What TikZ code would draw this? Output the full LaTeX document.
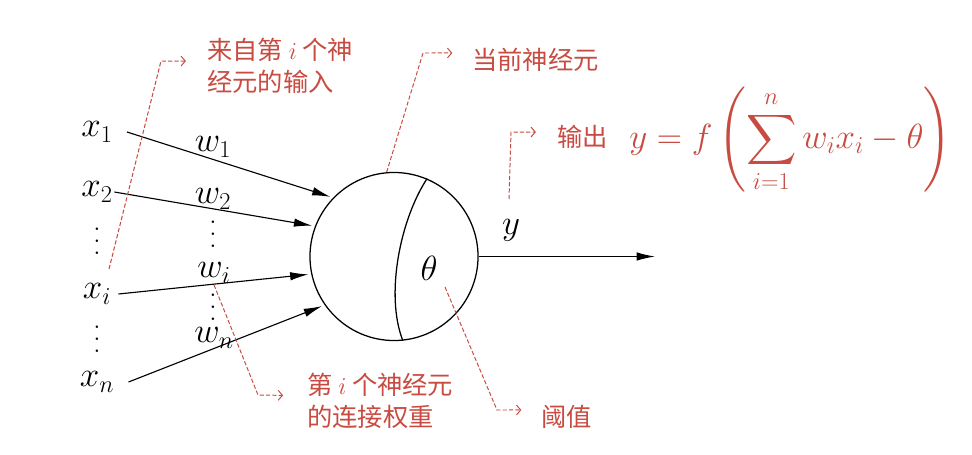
\documentclass[tikz,border=0pt]{standalone}
\usepackage{amsmath}
\usepackage{fontspec}
\newfontfamily\cjk{Noto Sans CJK SC}
\usetikzlibrary{arrows.meta, positioning}
\definecolor{notered}{RGB}{200,75,65}
\newcommand{\tallvdots}{\vbox{\baselineskip=8.5pt \lineskiplimit=0pt \hbox{.}\hbox{.}\hbox{.}}}

\begin{document}
\begin{tikzpicture}[
  x=0.025cm, y=-0.025cm,
  neuron/.style={circle, draw, line width=0.9pt, minimum size=4.2cm, inner sep=0pt},
  varnode/.style={font=\fontsize{24}{28}\selectfont, inner sep=1pt},
  dotsnode/.style={font=\fontsize{22}{26}\selectfont, inner sep=0pt},
  notetext/.style={font=\fontsize{18}{23}\selectfont\cjk, text=notered, inner sep=0pt, align=left, anchor=west},
  noteline/.style={draw=notered, line width=0.7pt, dash pattern=on 3pt off 1.5pt, -{Straight Barb[length=3pt,width=7pt]}},
  >={Latex[length=13pt,width=6pt]}
]
  \useasboundingbox (0,0) rectangle (972,454);

  %------------------------------------------------------------
  %  NEURON
  %------------------------------------------------------------
  \node[neuron] (neuron) at (394,256.5) {};
  \draw[line width=0.9pt] (neuron.67) .. controls (400,220) and (385,295) .. (neuron.276);
  \node[varnode] (theta) at (429,268) {$\theta$};

  %------------------------------------------------------------
  %  INPUTS  x_1 ... x_n
  %------------------------------------------------------------
  \node[varnode]  (X1)    at (97,132) {$x_{1}$};
  \node[varnode]  (X2)    at (97,192) {$x_{2}$};
  \node[dotsnode] (Xdots) at (97,241) {\tallvdots};
  \node[varnode]  (Xi)    at (97,294) {$x_{i}$};
  \node[dotsnode] (Xdotz) at (97,339) {\tallvdots};
  \node[varnode]  (Xn)    at (97,382) {$x_{n}$};

  %------------------------------------------------------------
  %  WEIGHTS  w_1 ... w_n
  %------------------------------------------------------------
  \node[varnode]  (W1)    at (213,147) {$w_{1}$};
  \node[varnode]  (W2)    at (213,199) {$w_{2}$};
  \node[dotsnode] (Wdots) at (213,234) {\tallvdots};
  \node[varnode]  (Wi)    at (214,273) {$w_{i}$};
  \node[dotsnode] (Wdotz) at (213,307) {\tallvdots};
  \node[varnode]  (Wn)    at (214,338) {$w_{n}$};

  %------------------------------------------------------------
  %  CONNECTIONS  x_i -> neuron
  %------------------------------------------------------------
  \foreach \src/\ang/\gap in {X1/136/9, X2/159/0, Xi/192/4, Xn/215/9} {
    \draw[->, line width=0.8pt, shorten >=2pt]
      ([xshift=\gap pt]\src.east) -- (neuron.\ang);
  }

  %------------------------------------------------------------
  %  OUTPUT  y
  %------------------------------------------------------------
  \coordinate (outEnd) at (655,256.5);
  \draw[->, line width=0.8pt] (neuron.east) -- (outEnd);
  \node[varnode] (Y) at (511,230) {$y$};

  %------------------------------------------------------------
  %  NOTES
  %------------------------------------------------------------
  % input of neuron i
  \node[notetext] (inNote) at (207,66) {来自第 $i$ 个神\\经元的输入};
  \coordinate (inTail) at (109,269);
  \draw[noteline] (inTail) -- (161,61) -- ([xshift=-15pt,yshift=3.5pt]inNote.west);

  % current neuron
  \node[notetext] (curNote) at (472,60) {当前神经元};
  \draw[noteline] (neuron.95) -- (423,53) -- ([xshift=-14pt,yshift=5pt]curNote.west);

  % output
  \node[notetext] (outNote) at (557,137) {输出};
  \node[anchor=west, inner sep=0pt, text=notered, font=\fontsize{25}{30}\selectfont] (formula) at (629,140)
    {$\displaystyle y=f\left(\sum_{i=1}^{n} w_{i}x_{i}-\theta\right)$};
  \coordinate (outTail) at (509,199);
  \draw[noteline] (outTail) -- (511,132) -- ([xshift=-15pt,yshift=3.5pt]outNote.west);

  % connection weight
  \node[notetext] (wNote) at (307,401) {第 $i$ 个神经元\\的连接权重};
  \draw[noteline] (Wi.south) -- (258,395) -- ([xshift=-17pt,yshift=4pt]wNote.west);

  % threshold
  \node[notetext] (thNote) at (541,417) {阈值};
  \coordinate (thTail) at (445,287);
  \draw[noteline] (thTail) -- (497,410) -- ([xshift=-14pt,yshift=5pt]thNote.west);

\end{tikzpicture}
\end{document}
